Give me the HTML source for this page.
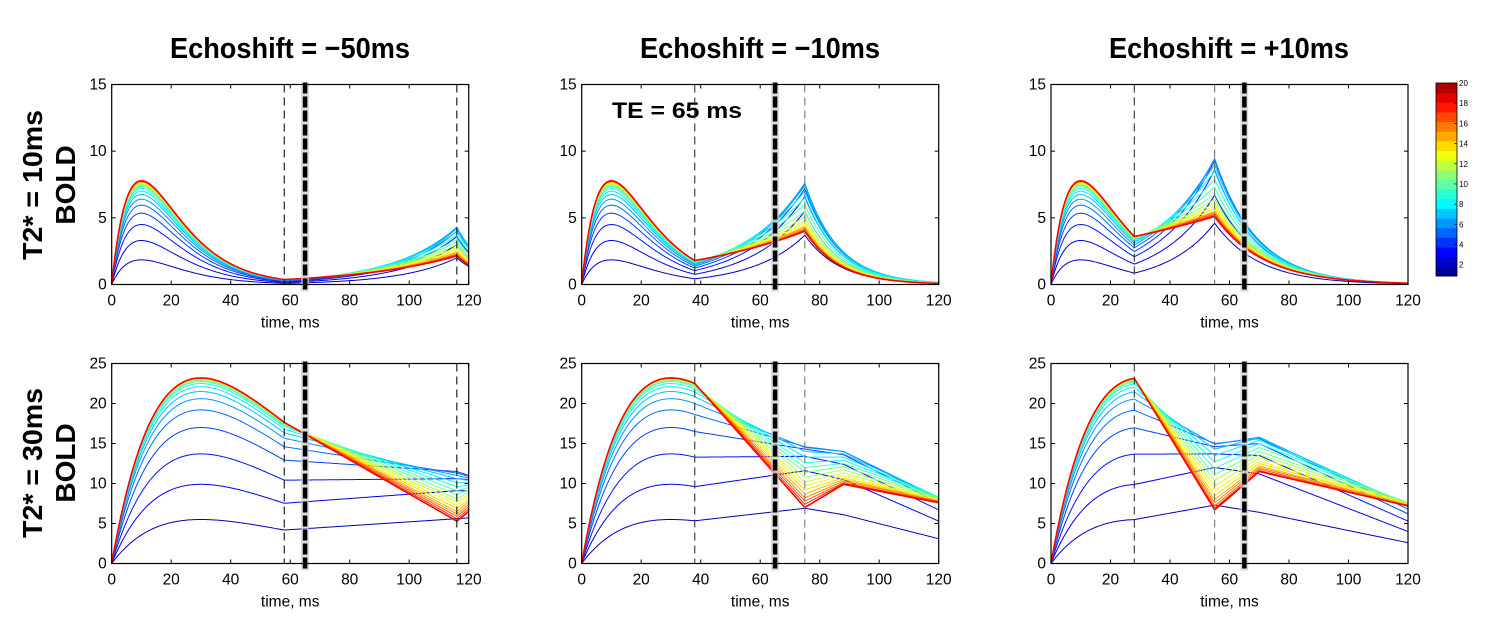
<!DOCTYPE html>
<html><head><meta charset="utf-8"><style>
html,body{margin:0;padding:0;background:#fff;}
svg text{font-family:"Liberation Sans",sans-serif;}
</style></head><body>
<svg id="fig" xmlns="http://www.w3.org/2000/svg" width="1500" height="626" viewBox="0 0 1500 626">
<rect width="1500" height="626" fill="#fff"/>
<text x="290" y="58" font-size="29" font-weight="bold" text-anchor="middle" textLength="240" lengthAdjust="spacingAndGlyphs">Echoshift = −50ms</text>
<text x="760" y="58" font-size="29" font-weight="bold" text-anchor="middle" textLength="240" lengthAdjust="spacingAndGlyphs">Echoshift = −10ms</text>
<text x="1229" y="58" font-size="29" font-weight="bold" text-anchor="middle" textLength="240" lengthAdjust="spacingAndGlyphs">Echoshift = +10ms</text>
<g transform="translate(50,185) rotate(-90)" font-size="28" font-weight="bold" text-anchor="middle">
<text x="0" y="-8" textLength="150" lengthAdjust="spacingAndGlyphs">T2* = 10ms</text><text x="0" y="25">BOLD</text></g>
<g transform="translate(50,463) rotate(-90)" font-size="28" font-weight="bold" text-anchor="middle">
<text x="0" y="-8" textLength="150" lengthAdjust="spacingAndGlyphs">T2* = 30ms</text><text x="0" y="25">BOLD</text></g>
<text x="612" y="118" font-size="22" font-weight="bold" textLength="130" lengthAdjust="spacingAndGlyphs">TE = 65 ms</text>
<g id="panels"></g>
<g id="cbar"></g>
</svg>
<script>
// ---- data ----
const xTicks=[0,20,40,60,80,100,120];
const yTicksRow1=[0,5,10,15];
const yTicksRow2=[0,5,10,15,20,25];
const t2StarRow=[10,30];
const teTime=65;
const peaksRow1=[1.85,3.3,4.5,5.35,5.95,6.4,6.75,7.0,7.2,7.35,7.45,7.52,7.58,7.63,7.67,7.7,7.72,7.74,7.76,7.78];
const peaksRow2=[5.5,9.9,13.7,17.0,19.2,20.6,21.5,22.1,22.5,22.75,22.9,23.0,23.05,23.1,23.13,23.15,23.17,23.18,23.19,23.2];
const echoTimesCol1=[58,116];
const echoTimesCol2=[38,75];
const echoTimesCol3=[28,55];
// Row 1 col 1
const r1c1Knots=[116,120];
const r1c1At116=[2.0,3.0,3.6,4.0,4.2,4.3,4.2,4.0,3.7,3.4,3.2,3.0,2.8,2.65,2.5,2.4,2.3,2.25,2.2,2.15];
const r1c1At120=[1.35,2.0,2.4,2.7,2.8,2.9,2.8,2.7,2.5,2.3,2.15,2.0,1.9,1.8,1.7,1.6,1.55,1.5,1.48,1.45];
// Row 1 col 2
const r1c2Knots=[75,120];
const r1c2At75=[3.7,5.5,6.6,7.2,7.5,7.6,7.4,7.0,6.5,6.0,5.5,5.1,4.8,4.6,4.4,4.3,4.2,4.1,4.05,4.0];
const r1c2At120=[0.08,0.11,0.13,0.14,0.15,0.15,0.15,0.14,0.13,0.12,0.11,0.1,0.1,0.09,0.09,0.09,0.08,0.08,0.08,0.08];
// Row 1 col 3
const r1c3Knots=[55,120];
const r1c3At55=[4.6,6.7,8.6,9.3,9.45,9.4,9.0,8.5,7.9,7.3,6.8,6.4,6.1,5.9,5.7,5.5,5.4,5.3,5.2,5.1];
const r1c3At120=[0.06,0.08,0.09,0.1,0.1,0.1,0.1,0.1,0.1,0.1,0.1,0.1,0.1,0.1,0.1,0.1,0.1,0.1,0.1,0.1];
// Row 2 col 1
const r2c1Knots=[116,120];
const r2c1At116=[5.6,9.1,10.6,11.5,11.3,11.0,10.6,10.1,9.6,9.1,8.6,8.1,7.7,7.3,6.9,6.5,6.2,5.9,5.6,5.3];
const r2c1At120=[5.7,9.1,10.5,11.0,10.9,10.7,10.4,10.1,9.8,9.5,9.2,8.9,8.6,8.3,8.0,7.7,7.4,7.1,6.8,6.5];
// Row 2 col 2
const r2c2Knots=[75,88,120];
const r2c2At75=[6.9,11.6,13.4,14.3,14.6,14.5,14.0,13.3,12.6,12.0,11.4,10.8,10.2,9.7,9.2,8.7,8.2,7.8,7.4,7.0];
const r2c2At88=[6.1,10.5,12.4,13.6,14.0,14.0,13.7,13.3,12.9,12.5,12.1,11.7,11.3,11.0,10.7,10.5,10.3,10.1,10.0,9.9];
const r2c2At120=[3.1,5.3,6.7,7.6,8.0,8.2,8.3,8.3,8.3,8.3,8.2,8.1,8.0,7.9,7.9,7.8,7.8,7.7,7.7,7.6];
// Row 2 col 3
const r2c3Knots=[55,70,120];
const r2c3At55=[7.3,12.0,13.7,14.6,15.0,14.9,14.3,13.5,12.7,11.9,11.1,10.4,9.7,9.1,8.5,8.0,7.6,7.2,6.9,6.7];
const r2c3At70=[6.4,11.2,13.5,15.0,15.6,15.8,15.7,15.4,15.0,14.5,14.0,13.6,13.2,12.8,12.5,12.2,12.0,11.8,11.6,11.5];
const r2c3At120=[2.6,4.0,5.3,6.2,6.8,7.1,7.3,7.4,7.5,7.6,7.6,7.5,7.5,7.4,7.4,7.3,7.3,7.2,7.2,7.2];
const colorbarTicks=[2,4,6,8,10,12,14,16,18,20];

// ---- layout ----
const NS="http://www.w3.org/2000/svg";
const colLeft=[111.7,581.7,1051], PW=357, PH=200, rowTop=[84.5,363.5], rowMax=[15,25];
function jet(v){
  const r=Math.min(Math.max(Math.min(4*v-1.5,-4*v+4.5),0),1);
  const g=Math.min(Math.max(Math.min(4*v-0.5,-4*v+3.5),0),1);
  const b=Math.min(Math.max(Math.min(4*v+0.5,-4*v+2.5),0),1);
  return `rgb(${Math.round(r*255)},${Math.round(g*255)},${Math.round(b*255)})`;
}
function mk(tag,attrs,parent){const e=document.createElementNS(NS,tag);for(const k in attrs)e.setAttribute(k,attrs[k]);parent.appendChild(e);return e;}
const panelsG=document.getElementById('panels');
const panels=[
 {row:0,col:0,echo:echoTimesCol1,knots:r1c1Knots,vals:[r1c1At116,r1c1At120],mode:'log',name:'r1c1'},
 {row:0,col:1,echo:echoTimesCol2,knots:r1c2Knots,vals:[r1c2At75,r1c2At120],mode:'log',name:'r1c2'},
 {row:0,col:2,echo:echoTimesCol3,knots:r1c3Knots,vals:[r1c3At55,r1c3At120],mode:'log',name:'r1c3'},
 {row:1,col:0,echo:echoTimesCol1,knots:r2c1Knots,vals:[r2c1At116,r2c1At120],mode:'lin',name:'r2c1'},
 {row:1,col:1,echo:echoTimesCol2,knots:r2c2Knots,vals:[r2c2At75,r2c2At88,r2c2At120],mode:'lin',name:'r2c2'},
 {row:1,col:2,echo:echoTimesCol3,knots:r2c3Knots,vals:[r2c3At55,r2c3At70,r2c3At120],mode:'lin',name:'r2c3'}
];
panels.forEach(p=>{
  const L=colLeft[p.col], T=rowTop[p.row], B=T+PH, ymax=rowMax[p.row];
  const xs=t=>L+t/120*PW, ys=v=>B-v/ymax*PH;
  const g=mk('g',{},panelsG);
  
  
  const peaks=p.row===0?peaksRow1:peaksRow2, T2=t2StarRow[p.row];
  const t1=p.echo[0];
  const clip=mk('clipPath',{id:'clip'+p.name},g);
  mk('rect',{x:L,y:T,width:PW,height:PH},clip);
  const cg=mk('g',{'clip-path':'url(#clip'+p.name+')'},g);
  for(let i=0;i<20;i++){
    const pts=[];
    const s1=t=>peaks[i]*(t/T2)*Math.exp(1-t/T2);
    for(let t=0;t<=t1;t+=0.5)pts.push([t,s1(t)]);
    let kt=[t1].concat(p.knots), kv=[s1(t1)].concat(p.vals.map(a=>a[i]));
    for(let k=0;k<kt.length-1;k++){
      const a=kt[k],b=kt[k+1],va=kv[k],vb=kv[k+1];
      for(let t=a+0.5;t<=b+1e-9;t+=0.5){
        const f=(t-a)/(b-a);
        const v=p.mode==='log'?Math.exp(Math.log(Math.max(va,1e-3))*(1-f)+Math.log(Math.max(vb,1e-3))*f):va+(vb-va)*f;
        pts.push([t,v]);
      }
    }
    const d=pts.map((q,j)=>(j?'L':'M')+xs(q[0]).toFixed(2)+','+ys(q[1]).toFixed(2)).join('');
    const path=mk('path',{d:d,fill:'none',stroke:jet(0.06+i/19*0.815),'stroke-width':i===19?1.6:1},cg);
    
    
  }
  p.echo.forEach((te,j)=>{
    const ln=mk('line',{x1:xs(te),x2:xs(te),y1:T,y2:B,stroke:(p.col===0?'#111':(j===0?'#333':'#777')),'stroke-width':1.1,'stroke-dasharray':'8 5'},g);
    
    
  });
  mk('line',{x1:xs(teTime),x2:xs(teTime),y1:T-2,y2:B+7,stroke:'#ccc','stroke-width':8,opacity:0.7},g);
  const te=mk('line',{x1:xs(teTime),x2:xs(teTime),y1:T-2,y2:B+7,stroke:'#000','stroke-width':4.5,'stroke-dasharray':'11 3'},g);
  
  
  const fr=mk('rect',{x:L,y:T,width:PW,height:PH,fill:'none',stroke:'#000','stroke-width':1.2},g);
  
  
  xTicks.forEach(t=>{
    mk('line',{x1:xs(t),x2:xs(t),y1:B,y2:B-4,stroke:'#000'},g);
    mk('line',{x1:xs(t),x2:xs(t),y1:T,y2:T+4,stroke:'#000'},g);
    const tx=mk('text',{x:xs(t),y:B+21,'font-size':15.5,'text-anchor':'middle'},g);
    tx.textContent=t;
    
    
  });
  (p.row===0?yTicksRow1:yTicksRow2).forEach(v=>{
    mk('line',{x1:L,x2:L+4,y1:ys(v),y2:ys(v),stroke:'#000'},g);
    mk('line',{x1:L+PW,x2:L+PW-4,y1:ys(v),y2:ys(v),stroke:'#000'},g);
    const tx=mk('text',{x:L-5,y:ys(v)+5,'font-size':15.5,'text-anchor':'end'},g);
    tx.textContent=v;
    
    
  });
  const xl=mk('text',{x:L+PW/2,y:B+43,'font-size':15.5,'text-anchor':'middle'},g);
  xl.textContent='time, ms';
  
  
});
const cb=document.getElementById('cbar');
const cbL=1436,cbW=21,cbT=83,cbB=276;
for(let i=0;i<20;i++){
  const h=(cbB-cbT)/20;
  const r=mk('rect',{x:cbL,y:cbB-(i+1)*h,width:cbW,height:h+0.5,fill:jet(0.03+i/19*0.92)},cb);
  
  
}
mk('rect',{x:cbL,y:cbT,width:cbW,height:cbB-cbT,fill:'none',stroke:'#000','stroke-width':0.8},cb);
colorbarTicks.forEach(k=>{
  const y=cbT+(20-k)/18*(264.7-cbT);
  mk('line',{x1:cbL+cbW-3,x2:cbL+cbW,y1:y,y2:y,stroke:'#000','stroke-width':0.6},cb);
  const tx=mk('text',{x:cbL+cbW+2,y:y+3,'font-size':8},cb);
  tx.textContent=k;
  
  
});
</script>
</body></html>
